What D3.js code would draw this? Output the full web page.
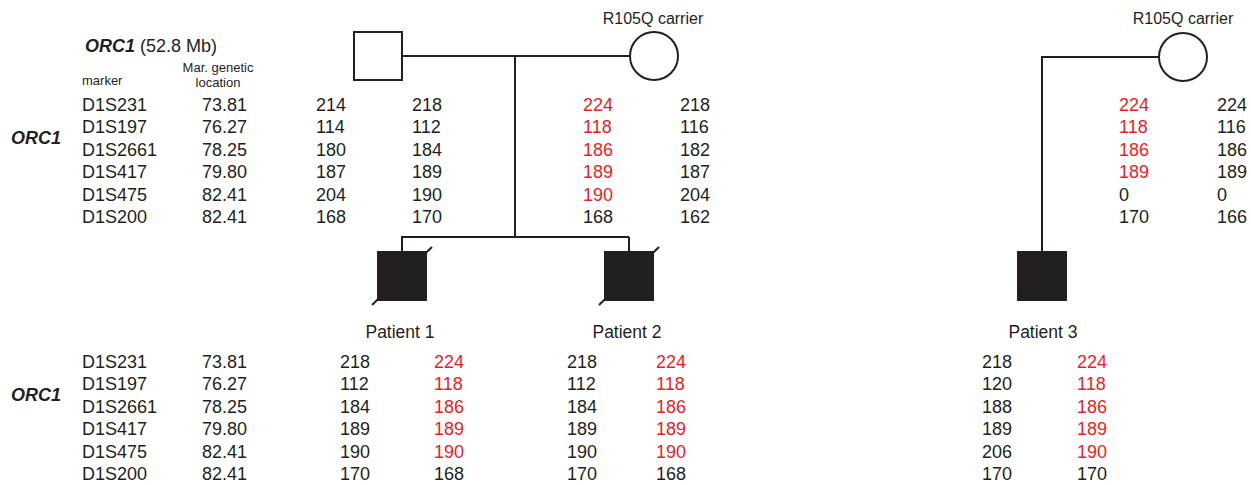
<!DOCTYPE html>
<html>
<head>
<meta charset="utf-8">
<script src="https://cdn.jsdelivr.net/npm/d3@7"></script>
<style>
  html, body { margin: 0; padding: 0; background: #fff; }
  svg { display: block; }
  text { font-family: "Liberation Sans", Arial, Helvetica, sans-serif; fill: #231f20; }
</style>
</head>
<body>
<svg id="chart" width="1251" height="485"></svg>
<script>
// Microsatellite markers around ORC1 and their genetic map positions
const markers = ["D1S231", "D1S197", "D1S2661", "D1S417", "D1S475", "D1S200"];
const locations = ["73.81", "76.27", "78.25", "79.80", "82.41", "82.41"];

// Family 1 parents
const father1A = [214, 114, 180, 187, 204, 168];
const father1B = [218, 112, 184, 189, 190, 170];
const mother1A = [224, 118, 186, 189, 190, 168];
const mother1B = [218, 116, 182, 187, 204, 162];
// Family 1 affected sons
const patient1A = [218, 112, 184, 189, 190, 170];
const patient1B = [224, 118, 186, 189, 190, 168];
const patient2A = [218, 112, 184, 189, 190, 170];
const patient2B = [224, 118, 186, 189, 190, 168];
// Family 2 mother and affected son
const mother2A = [224, 118, 186, 189, 0, 170];
const mother2B = [224, 116, 186, 189, 0, 166];
const patient3A = [218, 120, 188, 189, 206, 170];
const patient3B = [224, 118, 186, 189, 190, 170];

// Alleles on the R105Q-carrying haplotype (highlighted)
const mother1Hap = [true, true, true, true, true, false];
const mother2Hap = [true, true, true, true, false, false];
const patientHap = [true, true, true, true, true, false];
const noHap = [false, false, false, false, false, false];

const RED = "#ed1c24";
const INK = "#231f20";
const svg = d3.select("#chart");

// Row scales for the parental block and the offspring block
const yTop = d3.scalePoint().domain(markers).range([111, 223]);
const yBot = d3.scalePoint().domain(markers).range([368, 480]);

// Header
const head = svg.append("text").attr("x", 85).attr("y", 52).style("font-size", "18px");
head.append("tspan").text("ORC1").style("font-weight", "bold").style("font-style", "italic");
head.append("tspan").text(" (52.8 Mb)");

svg.append("text").attr("x", 82).attr("y", 85).style("font-size", "13px").text("marker");
svg.append("text").attr("x", 218).attr("y", 72).attr("text-anchor", "middle").style("font-size", "13px").text("Mar. genetic");
svg.append("text").attr("x", 218).attr("y", 87).attr("text-anchor", "middle").style("font-size", "13px").text("location");

// Marker and location columns for one block
function markerBlock(y, geneY) {
  const g = svg.append("g").style("font-size", "18px");
  g.selectAll("text.mk").data(markers).join("text").attr("class", "mk")
    .attr("x", 82).attr("y", d => y(d)).text(d => d);
  g.selectAll("text.loc").data(locations).join("text").attr("class", "loc")
    .attr("x", 202).attr("y", (d, i) => y(markers[i])).text(d => d);
  g.append("text").attr("x", 11).attr("y", geneY)
    .style("font-weight", "bold").style("font-style", "italic").text("ORC1");
}
markerBlock(yTop, 144);
markerBlock(yBot, 401);

// One allele column
function alleleColumn(values, hap, x, y) {
  svg.append("g").style("font-size", "18px")
    .selectAll("text").data(values).join("text")
    .attr("x", x).attr("y", (d, i) => y(markers[i]))
    .style("fill", (d, i) => hap[i] ? RED : INK)
    .text(d => d);
}
alleleColumn(father1A, noHap, 316, yTop);
alleleColumn(father1B, noHap, 412, yTop);
alleleColumn(mother1A, mother1Hap, 583, yTop);
alleleColumn(mother1B, noHap, 680, yTop);
alleleColumn(mother2A, mother2Hap, 1119, yTop);
alleleColumn(mother2B, noHap, 1217, yTop);
alleleColumn(patient1A, noHap, 340, yBot);
alleleColumn(patient1B, patientHap, 434, yBot);
alleleColumn(patient2A, noHap, 567, yBot);
alleleColumn(patient2B, patientHap, 656, yBot);
alleleColumn(patient3A, noHap, 982, yBot);
alleleColumn(patient3B, patientHap, 1077, yBot);

// Pedigree symbols and connecting lines
const ped = svg.append("g").attr("stroke", INK).attr("stroke-width", 2).attr("fill", "none");
function line(x1, y1, x2, y2) {
  ped.append("line").attr("x1", x1).attr("y1", y1).attr("x2", x2).attr("y2", y2);
}
function male(cx, cy, affected, deceased) {
  const s = 48;
  ped.append("rect").attr("x", cx - s / 2).attr("y", cy - s / 2).attr("width", s).attr("height", s)
    .attr("fill", affected ? INK : "#fff");
  if (deceased) line(cx - 30, cy + 29, cx + 30, cy - 29);
}
function female(cx, cy) {
  ped.append("circle").attr("cx", cx).attr("cy", cy).attr("r", 24).attr("fill", "#fff");
}

// Family 1: couple, descent line, sibship of two deceased affected sons
line(402, 56, 630, 56);
line(515, 56, 515, 237);
line(401, 237, 629, 237);
line(402, 237, 402, 252);
line(629, 237, 629, 252);
male(378, 56, false, false);
female(654, 56);
male(402, 276, true, true);
male(629, 276, true, true);

// Family 2: carrier mother and affected son
line(1042, 57, 1159, 57);
line(1042, 56, 1042, 252);
female(1183, 57);
male(1042, 276, true, false);

// Individual labels
const lab = svg.append("g").style("font-size", "16px").attr("text-anchor", "middle");
lab.append("text").attr("x", 653).attr("y", 24).text("R105Q carrier");
lab.append("text").attr("x", 1183).attr("y", 24).text("R105Q carrier");
const plab = svg.append("g").style("font-size", "17.5px").attr("text-anchor", "middle");
plab.append("text").attr("x", 400).attr("y", 338).text("Patient 1");
plab.append("text").attr("x", 627).attr("y", 338).text("Patient 2");
plab.append("text").attr("x", 1043).attr("y", 338).text("Patient 3");
</script>
</body>
</html>
